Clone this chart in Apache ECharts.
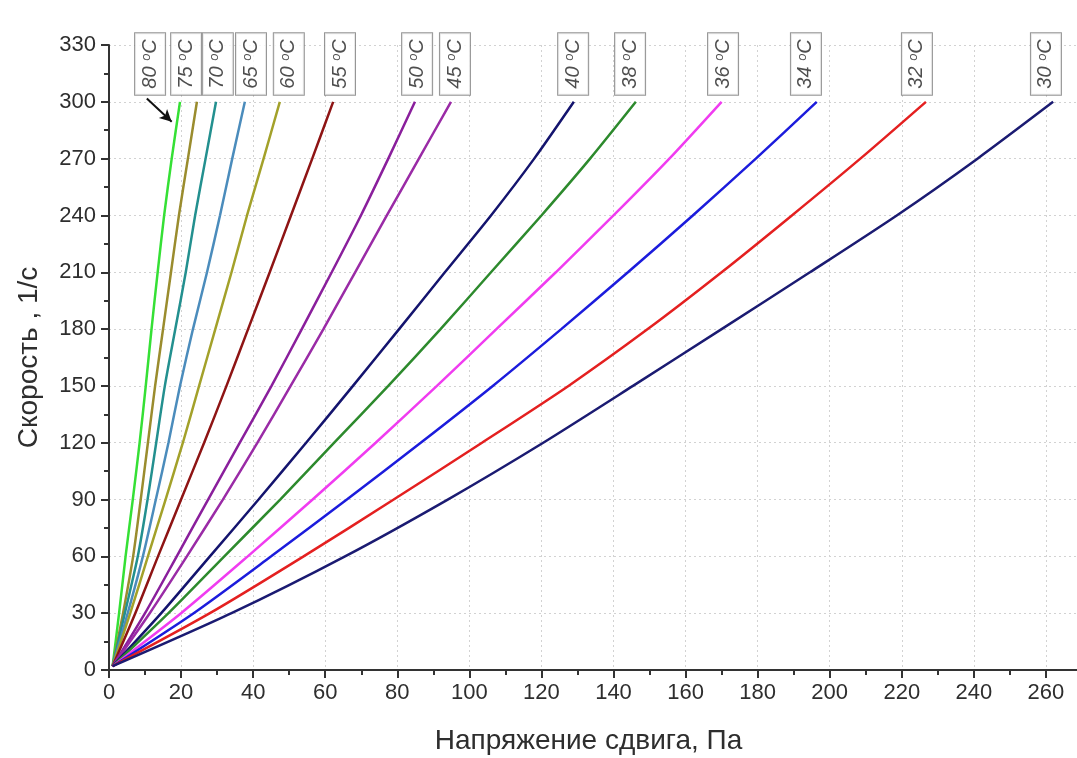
<!DOCTYPE html>
<html>
<head>
<meta charset="utf-8">
<script src="https://cdn.jsdelivr.net/npm/echarts@6/dist/echarts.min.js"></script>
<style>
  html, body { margin: 0; padding: 0; background: #ffffff; }
  #chart { width: 1077px; height: 758px; }
</style>
</head>
<body>
<div id="chart"></div>
<script>
// Flow curves: shear rate (1/с) against shear stress (Па) at several temperatures.
const temperatures = ['80', '75', '70', '65', '60', '55', '50', '45', '40', '38', '36', '34', '32', '30'];

// Shear rate levels at which the stress of every curve is read.
const rateLevels = [2, 30, 60, 90, 120, 150, 180, 210, 240, 270, 300];

// Shear stress (Па) of each curve at the rate levels above.
const stress80 = [1, 2.8, 4.6, 6.6, 8.5, 10.2, 11.8, 13.5, 15.3, 17.4, 19.7];
const stress75 = [1, 3.9, 6.7, 8.8, 10.8, 12.8, 15.0, 17.2, 19.4, 21.9, 24.4];
const stress70 = [1, 4.4, 8.0, 10.7, 13.1, 15.5, 18.4, 21.3, 23.9, 26.8, 29.7];
const stress65 = [1, 5.2, 9.4, 13.0, 16.5, 19.7, 23.3, 27.2, 30.8, 34.2, 37.7];
const stress60 = [1, 5.9, 10.8, 15.7, 20.5, 25.0, 29.5, 34.0, 38.3, 42.9, 47.4];
const stress55 = [1, 7.3, 13.6, 20.0, 26.4, 32.6, 38.6, 44.6, 50.5, 56.4, 62.2];
const stress50 = [1, 10.0, 18.8, 27.5, 36.3, 45.1, 53.5, 61.8, 69.9, 77.5, 84.9];
const stress45 = [1, 11.3, 21.6, 31.6, 41.2, 50.4, 59.5, 68.3, 77.1, 86.0, 94.9];
const stress40 = [1, 14.5, 28.0, 41.5, 54.7, 67.7, 80.5, 93.2, 106.0, 118.0, 129.0];
const stress38 = [1, 16.5, 32.0, 47.5, 62.5, 77.5, 92.0, 106.0, 120.0, 133.5, 146.2];
const stress36 = [1, 20.0, 38.5, 56.5, 74.0, 91.0, 107.5, 124.0, 140.0, 155.5, 170.0];
const stress34 = [1, 23.5, 45.0, 66.0, 86.5, 106.5, 125.5, 144.0, 162.0, 179.5, 196.4];
const stress32 = [1, 28.0, 54.0, 79.0, 103.5, 127.5, 149.5, 170.0, 189.5, 208.5, 226.7];
const stress30 = [1, 34.0, 65.5, 94.0, 120.5, 145.4, 170.0, 194.5, 218.6, 241.0, 262.0];

const stressByCurve = [stress80, stress75, stress70, stress65, stress60, stress55, stress50,
                       stress45, stress40, stress38, stress36, stress34, stress32, stress30];

// Axis ticks.
const stressTicks = [0, 20, 40, 60, 80, 100, 120, 140, 160, 180, 200, 220, 240, 260];
const rateTicks = [0, 30, 60, 90, 120, 150, 180, 210, 240, 270, 300, 330];

// Line colours, one per temperature.
const curveColors = ['#35e035', '#9a8c2e', '#23908f', '#4b8cbc', '#a3a12a', '#8e1414', '#8a1f9c',
                     '#9a2ba6', '#14146e', '#2d8a2d', '#f03cf0', '#1c1cdc', '#e42020', '#1b1b72'];

// Where each temperature tag sits along the stress axis, and its height on the rate axis.
const tagStress = [11.4, 21.4, 30.2, 39.4, 49.9, 64.1, 85.5, 96.0, 128.8, 144.6, 170.4, 193.4, 224.2, 260.0];
const tagRate = 320;

const series = temperatures.map((t, i) => ({
  name: t + ' °C',
  type: 'line',
  data: stressByCurve[i].map((x, j) => [x, rateLevels[j]]),
  showSymbol: false,
  smooth: 0.25,
  lineStyle: { color: curveColors[i], width: 2.5 },
  z: 3
}));

// Arrow pointing at the 80 °C curve.
series[0].markLine = {
  silent: true,
  symbol: ['none', 'arrow'],
  symbolSize: [9, 12],
  label: { show: false },
  lineStyle: { color: '#111', width: 2, type: 'solid' },
  data: [[{ coord: [10.5, 301.8] }, { coord: [17.4, 289.5] }]]
};

// Boxed, rotated temperature tags above the curves.
series.push({
  name: 'tags',
  type: 'scatter',
  symbolSize: 0,
  silent: true,
  data: temperatures.map((t, i) => ({ value: [tagStress[i], tagRate], name: t })),
  label: {
    show: true,
    position: 'inside',
    rotate: 90,
    formatter: p => '{n|' + p.name + ' }{s|o}{n|C}',
    borderColor: '#7a7a7a',
    borderWidth: 1,
    backgroundColor: '#ffffff',
    padding: [5, 6, 5, 6],
    rich: {
      n: { fontFamily: 'Liberation Sans', fontSize: 20, fontStyle: 'italic', color: '#222222', lineHeight: 20 },
      s: { fontFamily: 'Liberation Sans', fontSize: 13, fontStyle: 'italic', color: '#222222', lineHeight: 20, verticalAlign: 'top' }
    }
  },
  z: 5
});

const chart = echarts.init(document.getElementById('chart'), null, { renderer: 'canvas' });

const axisText = { fontFamily: 'Liberation Sans', fontSize: 22, color: '#2e2e2e' };
const gridDots = { show: true, lineStyle: { color: '#d2d2d2', width: 1, type: [2, 3] } };

chart.setOption({
  animation: false,
  backgroundColor: '#ffffff',
  grid: { left: 109, top: 45, right: -41, bottom: 88, containLabel: false, outerBoundsMode: 'none' },
  xAxis: {
    type: 'value',
    min: 0,
    max: 280,
    interval: 20,
    name: 'Напряжение сдвига, Па',
    nameLocation: 'middle',
    nameGap: 57,
    nameTextStyle: { fontFamily: 'Liberation Sans', fontSize: 28, color: '#2e2e2e', padding: [0, 50, 0, 0] },
    axisLine: { onZero: false, lineStyle: { color: '#333333', width: 2 } },
    axisTick: { show: true, inside: false, length: 8, lineStyle: { color: '#333333', width: 2 } },
    minorTick: { show: true, splitNumber: 2, length: 5, lineStyle: { color: '#333333', width: 2 } },
    axisLabel: {
      ...axisText,
      margin: 12,
      formatter: v => (stressTicks.indexOf(v) >= 0 ? String(v) : '')
    },
    splitLine: gridDots
  },
  yAxis: {
    type: 'value',
    min: 0,
    max: 330,
    interval: 30,
    name: 'Скорость , 1/с',
    nameLocation: 'middle',
    nameGap: 66,
    nameTextStyle: { fontFamily: 'Liberation Sans', fontSize: 28, color: '#2e2e2e' },
    axisLine: { show: true, onZero: false, lineStyle: { color: '#333333', width: 2 } },
    axisTick: { show: true, inside: false, length: 8, lineStyle: { color: '#333333', width: 2 } },
    minorTick: { show: true, splitNumber: 2, length: 5, lineStyle: { color: '#333333', width: 2 } },
    axisLabel: {
      ...axisText,
      margin: 13,
      formatter: v => (rateTicks.indexOf(v) >= 0 ? String(v) : '')
    },
    splitLine: gridDots
  },
  series: series
});
</script>
</body>
</html>
